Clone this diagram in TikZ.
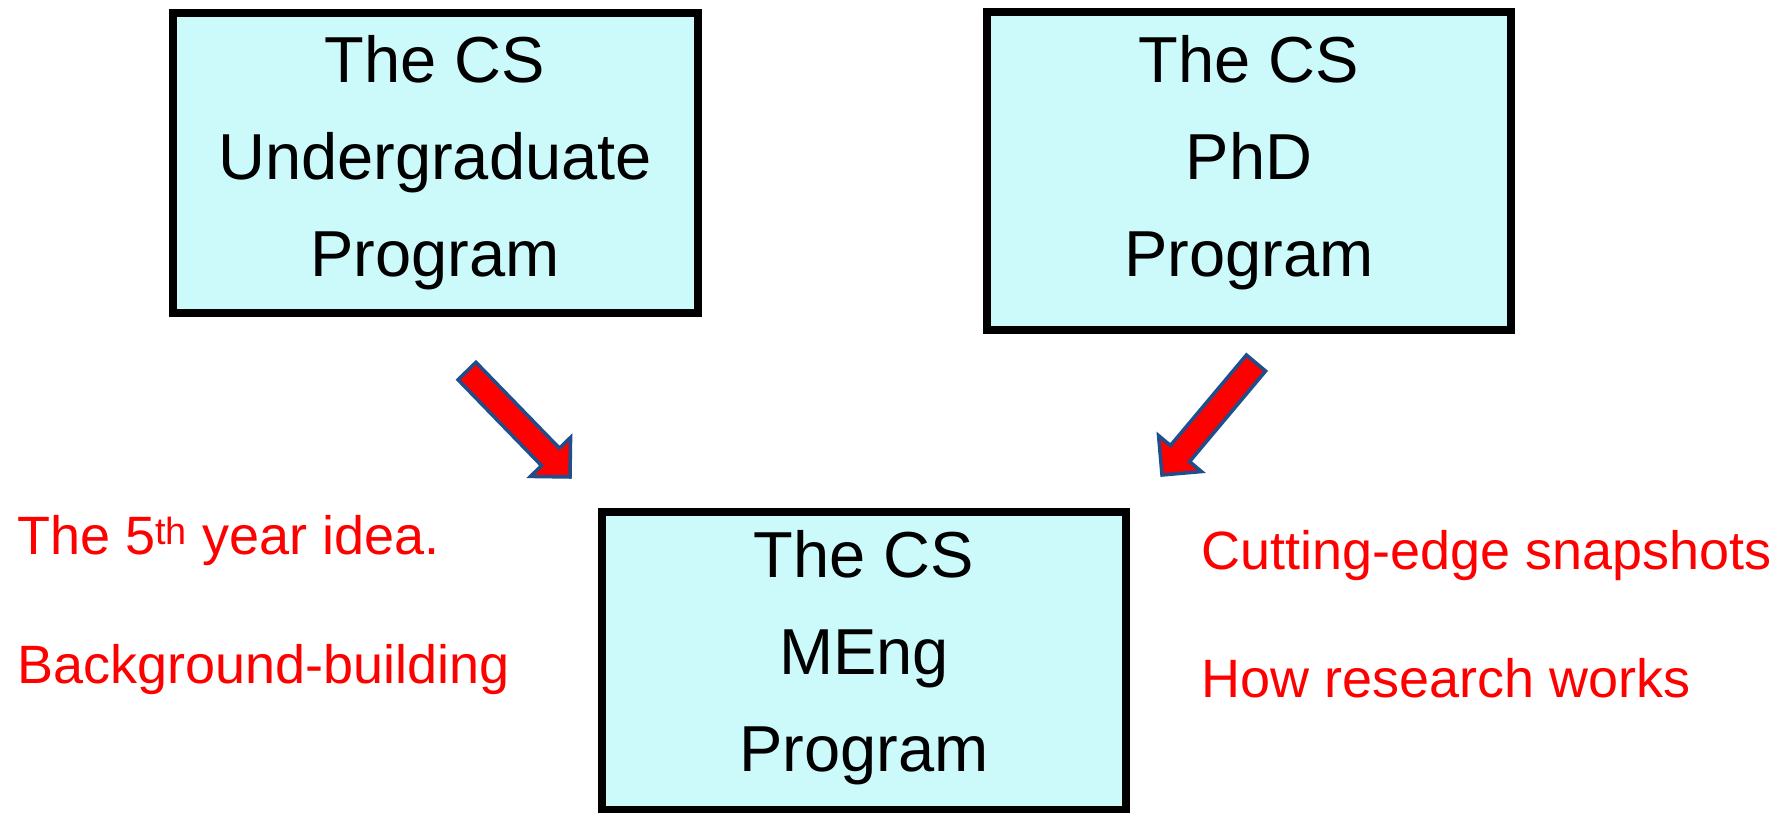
\documentclass[tikz,border=0pt]{standalone}
\usepackage{fontspec}
\setmainfont{Liberation Sans}
\usetikzlibrary{calc}
\definecolor{boxcyan}{RGB}{204,249,250}
\definecolor{arrowblue}{RGB}{31,78,140}
\newcommand{\blockarrow}[2]{%
  \draw[bigarrow] ($(#1)!12.5pt!90:(#2)$) -- ($(#2)!28pt!(#1)!12.5pt!90:(#2)$)
    -- ($(#2)!28pt!(#1)!28pt!90:(#2)$) -- (#2)
    -- ($(#2)!28pt!(#1)!28pt!-90:(#2)$) -- ($(#2)!28pt!(#1)!12.5pt!-90:(#2)$)
    -- ($(#1)!12.5pt!-90:(#2)$) -- cycle;}
\tikzset{
  progbox/.style={draw, line width=8pt, fill=boxcyan, inner sep=0pt},
  progtext/.style={align=center, font=\fontsize{65}{97}\selectfont},
  note/.style={text=red, anchor=base west, inner sep=0pt, font=\fontsize{54}{60}\selectfont},
  bigarrow/.style={draw=arrowblue, fill=red, line width=3.5pt, line join=miter}
}
\begin{document}
\begin{tikzpicture}[x=1pt, y=-1pt]
    \useasboundingbox (0,0) rectangle (1785,812);
    \node[progbox, minimum width=525pt, minimum height=300pt] (ug) at (435,163) {};
    \node[progbox, minimum width=524pt, minimum height=318pt] (phd) at (1249,171) {};
    \node[progbox, minimum width=524pt, minimum height=298pt] (meng) at (864,661) {};
    \node[progtext] (ugtext) at (435,163) {The CS\\Undergraduate\\Program};
    \node[progtext] (phdtext) at (1249,163) {The CS\\PhD\\Program};
    \node[progtext] (mengtext) at (864,658) {The CS\\MEng\\Program};

    \node[note] (fifth) at (17,554) {The 5\textsuperscript{th} year idea.};
    \node[note] (background) at (17,683) {Background-building};
    \node[note] (cutting) at (1201,569) {Cutting-edge snapshots};
    \node[note] (howres) at (1201,697) {How research works};

    \coordinate (ugtail) at (467,371);
    \coordinate (ugtip) at (570,477);
    \coordinate (phdtail) at (1256,363);
    \coordinate (phdtip) at (1162,475);
    \blockarrow{ugtail}{ugtip}
    \blockarrow{phdtail}{phdtip}
\end{tikzpicture}
\end{document}
